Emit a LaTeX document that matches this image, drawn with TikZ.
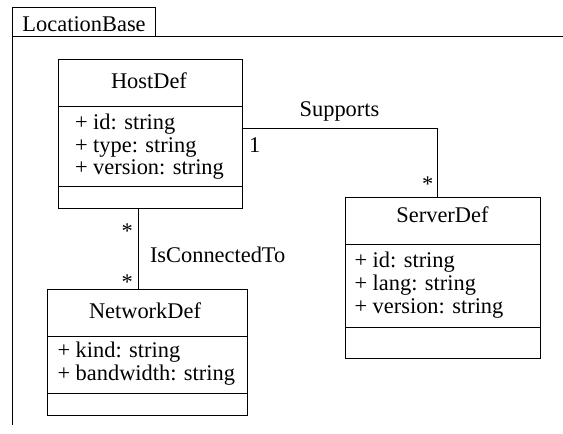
\documentclass[tikz,border=0pt]{standalone}
\usepackage{fontspec}
\setmainfont{Liberation Serif}
\begin{document}
\begin{tikzpicture}[x=1pt,y=-1pt,line width=0.9pt,
  every node/.style={inner sep=0pt,outer sep=0pt,font=\fontsize{22.4}{22.7}\selectfont},
  box/.style={draw,anchor=north west},
  lbl/.style={anchor=base west},
  ctr/.style={anchor=base}]
\useasboundingbox (0,0) rectangle (563,434);
% package frame
\node[box,minimum width=143pt,minimum height=29pt] (tab) at (12,7) {};
\node[lbl] (tabtxt) at (22.5,31) {LocationBase};
\coordinate (frameR) at (563,36);
\coordinate (frameB) at (12,425);
\draw (tab.south west) -- (frameR);
\draw (tab.north west) -- (frameB);
% HostDef
\node[box,minimum width=184pt,minimum height=149pt] (host) at (58,59) {};
\draw ([yshift=-47pt]host.north west) -- ([yshift=-47pt]host.north east);
\draw ([yshift=-127pt]host.north west) -- ([yshift=-127pt]host.north east);
\node[ctr] (hname) at (149,88) {HostDef};
\node[lbl] (h1) at (75,129) {+ id: string};
\node[lbl] (h2) at (75,152) {+ type: string};
\node[lbl] (h3) at (75,174.5) {+ version: string};
% ServerDef
\node[box,minimum width=195pt,minimum height=161pt] (server) at (345,197) {};
\draw ([yshift=-47pt]server.north west) -- ([yshift=-47pt]server.north east);
\draw ([yshift=-130pt]server.north west) -- ([yshift=-130pt]server.north east);
\node[ctr] (sname) at (442.5,222) {ServerDef};
\node[lbl] (s1) at (354.5,267) {+ id: string};
\node[lbl] (s2) at (354.5,290) {+ lang: string};
\node[lbl] (s3) at (354.5,313) {+ version: string};
% NetworkDef
\node[box,minimum width=200pt,minimum height=126pt] (network) at (47,289) {};
\draw ([yshift=-47pt]network.north west) -- ([yshift=-47pt]network.north east);
\draw ([yshift=-104pt]network.north west) -- ([yshift=-104pt]network.north east);
\node[ctr] (nname) at (145,318) {NetworkDef};
\node[lbl] (n1) at (57.5,357) {+ kind: string};
\node[lbl] (n2) at (57.5,380) {+ bandwidth: string};
% Supports association
\draw ([yshift=5.5pt]host.east) -| ([xshift=-5.5pt]server.north);
\node[ctr] (supports) at (339.5,116) {Supports};
\node[lbl] (m1) at (249,152) {1};
\node[lbl] (m2) at (422,191) {*};
% IsConnectedTo association
\draw ([xshift=-12pt]host.south) -- ([xshift=-12pt]host.south |- network.north);
\node[lbl] (isconn) at (150,262) {IsConnectedTo};
\node[lbl] (m3) at (121.5,238) {*};
\node[lbl] (m4) at (121.5,289) {*};
\end{tikzpicture}
\end{document}
